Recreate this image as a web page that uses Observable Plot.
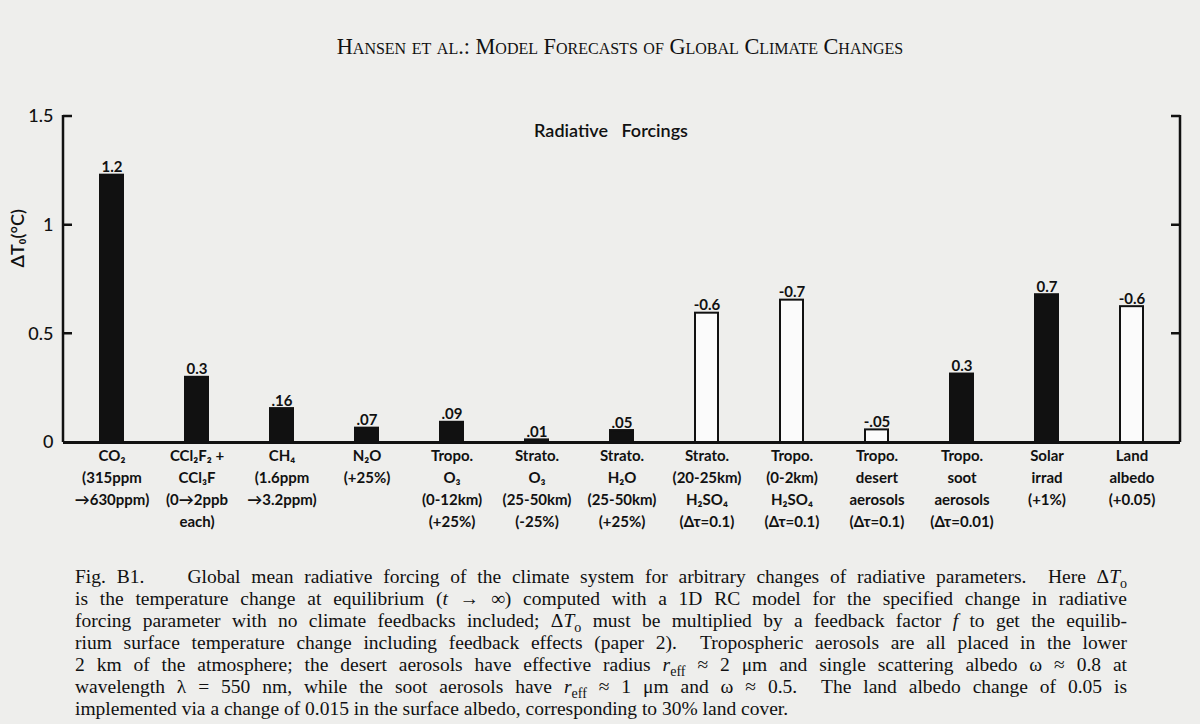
<!DOCTYPE html>
<html><head><meta charset="utf-8">
<script src="https://cdn.jsdelivr.net/npm/d3@7"></script>
<script src="https://cdn.jsdelivr.net/npm/@observablehq/plot@0.6"></script>
<style>
body{margin:0;background:#eeeeec;width:1200px;height:724px;overflow:hidden;position:relative;font-family:"Liberation Serif",serif;color:#111}
#header{position:absolute;top:34px;left:0;width:1240px;text-align:center;font-variant:small-caps;font-size:22.3px;letter-spacing:0px}
#chart{position:absolute;top:100px;left:0}
#caption{position:absolute;top:566px;left:75px;width:1052px;font-size:19.5px;line-height:22px}
#caption div{text-align:justify;text-align-last:justify;white-space:nowrap}
#caption div.last{text-align-last:left}
sub{font-size:0.72em;line-height:0;vertical-align:-0.35em}
</style></head>
<body>
<div id="header">Hansen et al.: Model Forecasts of Global Climate Changes</div>
<div id="chart"></div>
<div id="caption">
<div>Fig. B1.&nbsp;&nbsp;&nbsp; Global mean radiative forcing of the climate system for arbitrary changes of radiative parameters.&nbsp; Here Δ<i>T</i><sub>o</sub></div>
<div>is the temperature change at equilibrium (<i>t</i> → ∞) computed with a 1D RC model for the specified change in radiative</div>
<div>forcing parameter with no climate feedbacks included; Δ<i>T</i><sub>o</sub> must be multiplied by a feedback factor <i>f</i> to get the equilib-</div>
<div>rium surface temperature change including feedback effects (paper 2).&nbsp; Tropospheric aerosols are all placed in the lower</div>
<div>2 km of the atmosphere; the desert aerosols have effective radius <i>r</i><sub>eff</sub> ≈ 2 μm and single scattering albedo ω ≈ 0.8 at</div>
<div>wavelength λ = 550 nm, while the soot aerosols have <i>r</i><sub>eff</sub> ≈ 1 μm and ω ≈ 0.5.&nbsp; The land albedo change of 0.05 is</div>
<div class="last">implemented via a change of 0.015 in the surface albedo, corresponding to 30% land cover.</div>
</div>
<script>
const categories = ["CO2","CFCs","CH4","N2O","Tropo O3","Strato O3","Strato H2O","Strato H2SO4","Tropo H2SO4","Desert aerosols","Soot aerosols","Solar irrad","Land albedo"];
const tickLabels = [
  "CO₂\n(315ppm\n→630ppm)",
  "CCl₂F₂ +\nCCl₃F\n(0→2ppb\neach)",
  "CH₄\n(1.6ppm\n→3.2ppm)",
  "N₂O\n(+25%)",
  "Tropo.\nO₃\n(0-12km)\n(+25%)",
  "Strato.\nO₃\n(25-50km)\n(-25%)",
  "Strato.\nH₂O\n(25-50km)\n(+25%)",
  "Strato.\n(20-25km)\nH₂SO₄\n(Δτ=0.1)",
  "Tropo.\n(0-2km)\nH₂SO₄\n(Δτ=0.1)",
  "Tropo.\ndesert\naerosols\n(Δτ=0.1)",
  "Tropo.\nsoot\naerosols\n(Δτ=0.01)",
  "Solar\nirrad\n(+1%)",
  "Land\nalbedo\n(+0.05)"
];
const heights = [1.23, 0.30, 0.156, 0.066, 0.093, 0.012, 0.055, 0.595, 0.655, 0.058, 0.315, 0.68, 0.625];
const valueLabels = ["1.2","0.3",".16",".07",".09",".01",".05","-0.6","-0.7","-.05","0.3","0.7","-0.6"];
const effects = ["warming","warming","warming","warming","warming","warming","warming","cooling","cooling","cooling","warming","warming","cooling"];
const yTicks = [0, 0.5, 1, 1.5];
const chartTitle = "Radiative\u2003Forcings";
const yLabel = "ΔT₀(°C)";

const data = categories.map((c, i) => ({category: c, height: heights[i], label: valueLabels[i], effect: effects[i]}));
const ink = "#111";

const chart = Plot.plot({
  width: 1200, height: 440,
  marginTop: 16, marginBottom: 98, marginLeft: 63, marginRight: 20,
  style: {background: "transparent", fontFamily: "Lato, sans-serif", color: ink},
  x: {domain: categories, paddingInner: 0.73, paddingOuter: 0.365, axis: null, label: null},
  y: {domain: [0, 1.5], axis: null, label: null},
  color: {domain: ["warming", "cooling"], range: [ink, "#fbfbfb"]},
  marks: [
    Plot.barY(data, {x: "category", y: "height", fill: "effect", stroke: ink, strokeWidth: 2}),
    Plot.text(data, {x: "category", y: "height", text: "label", lineAnchor: "bottom", dy: -3, fontSize: 15, fontWeight: 700, fill: ink}),
    Plot.axisX({tickSize: 0, tickPadding: 3, label: null, tickFormat: d => tickLabels[categories.indexOf(d)], fontSize: 15, lineHeight: 1.47, fontWeight: 700, fill: ink}),
    Plot.axisY(yTicks, {tickSize: 0, tickPadding: 10, label: null, tickFormat: d => String(d), fontSize: 18, fontWeight: 500, fill: ink}),
    (index, scales, values, dimensions) => {
      const {width, marginLeft, marginRight} = dimensions;
      const x0 = marginLeft, x1 = width - marginRight;
      const yb = scales.y(0), yt = scales.y(1.5);
      const g = d3.create("svg:g").attr("stroke", ink).attr("stroke-width", 2.5).attr("fill", "none");
      g.append("path").attr("d", `M${x0},${yt - 1}V${yb}M${x1},${yt - 1}V${yb}`);
      for (const t of yTicks.filter(t => t > 0)) {
        const y = scales.y(t);
        g.append("path").attr("d", `M${x0},${y}h9M${x1},${y}h-9`);
      }
      return g.node();
    },
    Plot.ruleY([0], {stroke: ink, strokeWidth: 3}),
    Plot.text([chartTitle], {frameAnchor: "top", dy: 8, dx: -11, fontSize: 18, fontWeight: 600, fill: ink}),
    Plot.text([yLabel], {frameAnchor: "left", dx: -45, dy: -12, rotate: -90, fontSize: 18, fontWeight: 600, fill: ink})
  ]
});
document.getElementById("chart").appendChild(chart);
</script>
</body></html>
